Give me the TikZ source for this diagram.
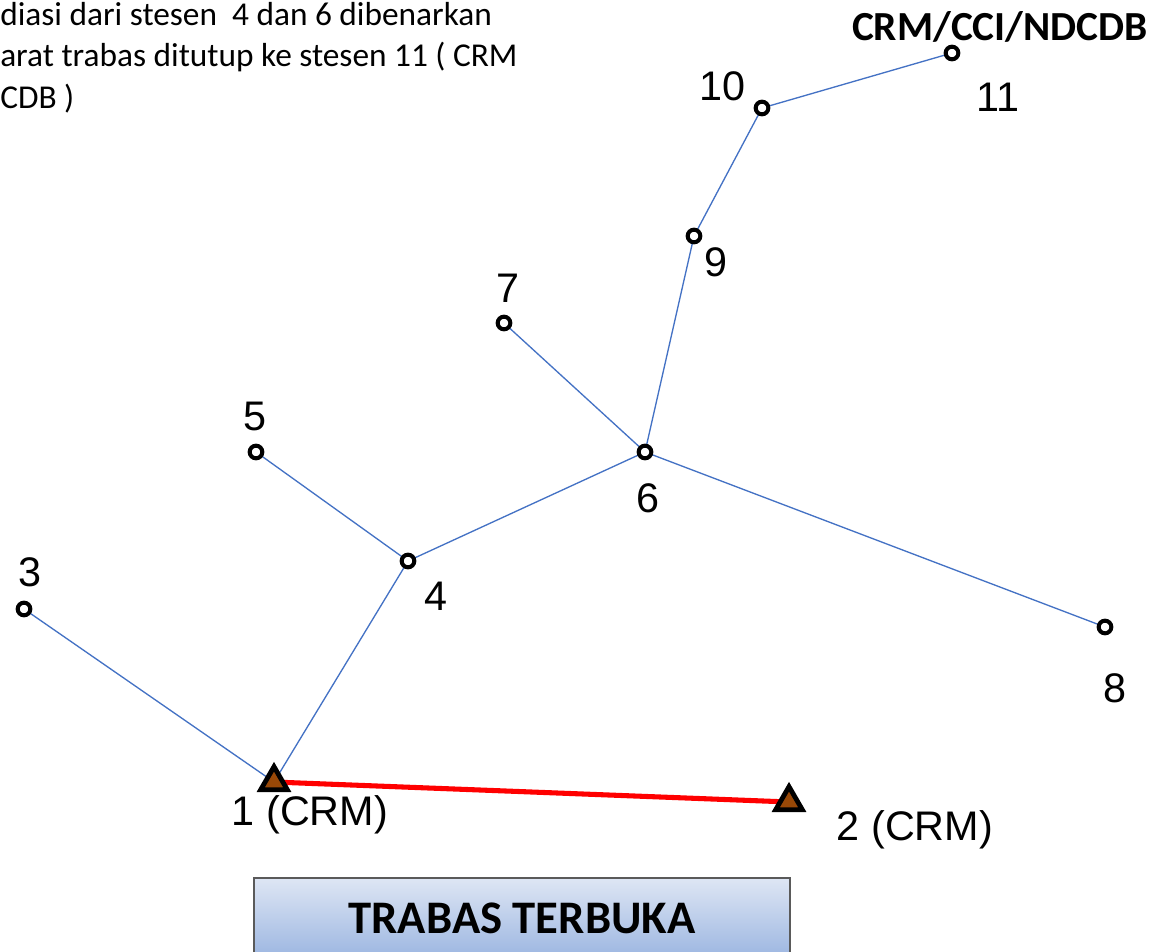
\documentclass[tikz,border=0pt]{standalone}
\usepackage{fontspec}
\setmainfont{Liberation Sans}
\newfontfamily\calibri{Carlito}
\usetikzlibrary{shapes.geometric,backgrounds}
\definecolor{lineblue}{HTML}{4472C4}
\definecolor{crmbrown}{HTML}{984807}
\definecolor{boxtop}{HTML}{DEE6F4}
\definecolor{boxbot}{HTML}{9CB6E1}
\definecolor{boxline}{HTML}{5A5A5A}
\tikzset{
  stn/.style={circle,draw,fill=white,line width=3pt,minimum size=9.5pt,inner sep=0pt},
  crm/.style={regular polygon,regular polygon sides=3,draw,fill=crmbrown,line width=3.6pt,minimum size=23pt,inner sep=0pt},
  num/.style={font=\fontsize{31}{36}\selectfont,inner sep=0pt},
  leg/.style={line width=1pt,draw=lineblue},
  titlebox/.style={draw=boxline,line width=1.5pt,top color=boxtop,bottom color=boxbot,minimum width=402pt,minimum height=60pt,font=\calibri\bfseries\fontsize{35}{40}\selectfont},
}
\begin{document}
\begin{tikzpicture}[x=0.75pt,y=-0.75pt]
  \useasboundingbox (0,0) rectangle (1159,952);
  % note at top left
  \node (note) [anchor=north west,align=left,inner sep=0pt,font=\calibri\fontsize{25}{31}\selectfont] at (0,2)
    {diasi dari stesen \ 4 dan 6 dibenarkan\\arat trabas ditutup ke stesen 11 ( CRM\\CDB )};
  % stations
  \node (s1) [crm] at (274,782) {};
  \node (s2) [crm] at (789,802) {};
  \node (s3) [stn] at (24,609) {};
  \node (s4) [stn] at (408,561) {};
  \node (s5) [stn] at (256,452) {};
  \node (s6) [stn] at (645,452) {};
  \node (s7) [stn] at (504,323) {};
  \node (s8) [stn] at (1105,627) {};
  \node (s9) [stn] at (694,236) {};
  \node (s10) [stn] at (762,108) {};
  \node (s11) [stn] at (952,53) {};
  % labels
  \node (l1) [num] at (310,815) {1 (CRM)};
  \node (l2) [num] at (915,830) {2 (CRM)};
  \node (l3) [num] at (30,572) {3};
  \node (l4) [num] at (436,596) {4};
  \node (l5) [num] at (255,416) {5};
  \node (l6) [num] at (648,498) {6};
  \node (l7) [num] at (508,288) {7};
  \node (l8) [num] at (1115,688) {8};
  \node (l9) [num] at (716,262) {9};
  \node (l10) [num] at (722,86) {10};
  \node (l11) [num] at (998,97) {11};
  \node (cci) [font=\calibri\bfseries\fontsize{31}{36}\selectfont,inner sep=0pt] at (1000,27) {CRM/CCI/NDCDB};
  \node (title) [titlebox] at (522,918) {TRABAS TERBUKA};
  % legs of the traverse
  \begin{scope}[on background layer]
    \draw[leg] (s3.center) -- (s1.center) -- (s4.center) -- (s5.center);
    \draw[leg] (s4.center) -- (s6.center) -- (s7.center);
    \draw[leg] (s6.center) -- (s8.center);
    \draw[leg] (s6.center) -- (s9.center) -- (s10.center) -- (s11.center);
    \draw[red,line width=3.8pt] (s1.center) -- (s2.center);
  \end{scope}
\end{tikzpicture}
\end{document}
